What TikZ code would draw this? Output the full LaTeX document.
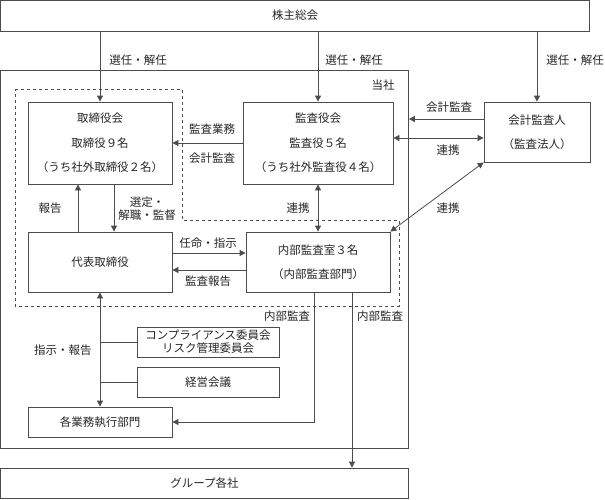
\documentclass[tikz,border=0pt]{standalone}
\usepackage{fontspec}
\setmainfont{Noto Sans CJK JP}
\usetikzlibrary{arrows.meta}

\tikzset{
  org/.style={draw=black!70, line width=0.8pt, inner sep=0pt, align=center,
    text=black!85, font=\fontsize{11.5}{24.5}\selectfont},
  tag/.style={inner sep=0pt, align=center, text=black!85,
    font=\fontsize{11.5}{13}\selectfont},
  arr/.style={draw=black!70, line width=0.8pt, -{Triangle[length=6pt,width=6pt]}},
  dbl/.style={draw=black!70, line width=0.8pt,
    {Triangle[length=6pt,width=6pt]}-{Triangle[length=6pt,width=6pt]}},
  link/.style={draw=black!70, line width=0.8pt}
}

\begin{document}
\begin{tikzpicture}[x=1pt, y=-1pt]
\useasboundingbox (0,0) rectangle (605,499);

% Company frame and the dashed governance area
\node[org, minimum width=408pt, minimum height=378pt] (tosha) at (204.5,259) {};
\node[tag] (toshaL) at (383,85) {当社};
\draw[black!70, line width=0.8pt, dashed]
  (15,89) -- (182,89) -- (182,220) -- (399,220) -- (399,306) -- (15,306) -- cycle;

% Boxes
\node[org, minimum width=589pt, minimum height=31pt] (share) at (295,15.5) {株主総会};
\node[org, minimum width=144pt, minimum height=82pt] (board) at (100,143)
  {取締役会\\取締役９名\\（うち社外取締役２名）};
\node[org, minimum width=150pt, minimum height=82pt] (kansa) at (318,143)
  {監査役会\\監査役５名\\（うち社外監査役４名）};
\node[org, minimum width=106pt, minimum height=60pt] (auditor) at (537,132)
  {会計監査人\\（監査法人）};
\node[org, minimum width=144pt, minimum height=60pt] (ceo) at (100,262) {代表取締役};
\node[org, minimum width=144pt, minimum height=60pt] (internal) at (318,262)
  {内部監査室３名\\（内部監査部門）};
\node[org, minimum width=142pt, minimum height=30pt,
  font=\fontsize{11.5}{13}\selectfont] (comp) at (208,342)
  {コンプライアンス委員会\\リスク管理委員会};
\node[org, minimum width=142pt, minimum height=30pt] (mgmt) at (208,382) {経営会議};
\node[org, minimum width=144pt, minimum height=30pt] (exec) at (100,422) {各業務執行部門};
\node[org, minimum width=408pt, minimum height=30pt] (group) at (204.5,483) {グループ各社};

% Labels
\node[tag] (sel1) at (138,60) {選任・解任};
\node[tag] (sel2) at (354,60) {選任・解任};
\node[tag] (sel3) at (575,60) {選任・解任};
\node[tag] (audA) at (212,129) {監査業務};
\node[tag] (audB) at (212,158) {会計監査};
\node[tag] (rep) at (50,208) {報告};
\node[tag] (appoint) at (147,209) {選定・\\解職・監督};
\node[tag] (order) at (208,243) {任命・指示};
\node[tag] (report) at (208,281) {監査報告};
\node[tag] (coop1) at (298,208) {連携};
\node[tag] (acct) at (449,107) {会計監査};
\node[tag] (coop2) at (448,150) {連携};
\node[tag] (coop3) at (448,208) {連携};
\node[tag] (instr) at (63,350) {指示・報告};
\node[tag] (ia1) at (287,316) {内部監査};
\node[tag] (ia2) at (380,316) {内部監査};

% Connectors
\draw[arr] (board.north |- share.south) -- (board.north);
\draw[arr] (kansa.north |- share.south) -- (kansa.north);
\draw[arr] (auditor.north |- share.south) -- (auditor.north);
\draw[arr] (kansa.west) -- (board.east);
\draw[arr] ([xshift=14pt]board.south) -- ([xshift=14pt]ceo.north);
\draw[arr] ([xshift=-22pt]ceo.north) -- ([xshift=-22pt]board.south);
\draw[arr] ([yshift=9pt]ceo.east) -- ([yshift=9pt]internal.west);
\draw[arr] ([yshift=-8pt]internal.west) -- ([yshift=-8pt]ceo.east);
\draw[dbl] (kansa.south) -- (internal.north);
\draw[dbl] ([yshift=5pt]kansa.east) -- ([yshift=-6pt]auditor.west);
\coordinate (a1) at ([yshift=13pt]auditor.west);
\draw[arr] (a1) -- (a1 -| tosha.east);
\draw[dbl] (auditor.south west) -- (internal.north east);
\draw[dbl] (ceo.south) -- (exec.north);
\draw[link] (comp.west -| ceo.south) -- (comp.west);
\draw[link] (mgmt.west -| ceo.south) -- (mgmt.west);
\draw[arr] ([xshift=-4pt]internal.south) |- (exec.east);
\coordinate (i2) at ([xshift=34pt]internal.south);
\draw[arr] (i2) -- (i2 |- group.north);
\end{tikzpicture}
\end{document}
